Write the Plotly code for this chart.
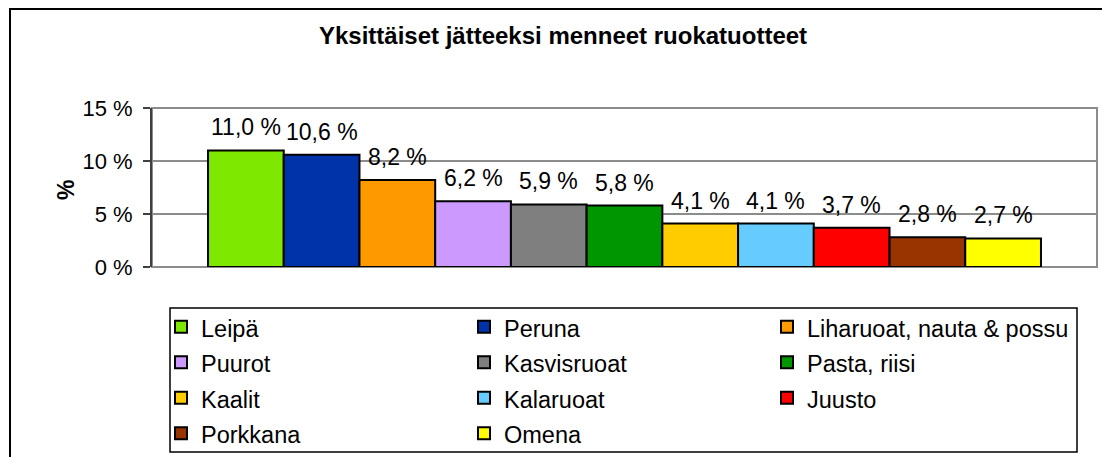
import plotly.graph_objects as go

# ---- data ----
categories = ["Leipä", "Peruna", "Liharuoat, nauta & possu", "Puurot", "Kasvisruoat",
              "Pasta, riisi", "Kaalit", "Kalaruoat", "Juusto", "Porkkana", "Omena"]
values = [11.0, 10.6, 8.2, 6.2, 5.9, 5.8, 4.1, 4.1, 3.7, 2.8, 2.7]
colors = ["#7FE800", "#0033AA", "#FF9900", "#CC99FF", "#7F7F7F",
          "#009600", "#FFCC00", "#66CCFF", "#FF0000", "#993300", "#FFFF00"]
y_ticks = [0, 5, 10, 15]
y_tick_labels = ["0 %", "5 %", "10 %", "15 %"]
title_text = "Yksittäiset jätteeksi menneet ruokatuotteet"

FONT = "Liberation Sans, Arial, sans-serif"
OFF = 8  # default page body margin
W, H = 1110 - OFF, 457 - OFF
# plot area in viewport pixels: x 152..1097, y 108..267
L, T = 152 - OFF, 108 - OFF
R = W - (1097 - OFF)
B = H - (267 - OFF)
PW, PH = W - L - R, H - T - B

def px_x(px):  # viewport pixel -> paper
    return (px - OFF - L) / PW

def px_y(py):
    return (H - B - (py - OFF)) / PH

fig = go.Figure()
for i, (name, val, col) in enumerate(zip(categories, values, colors)):
    fig.add_trace(go.Bar(
        x=[i], y=[val], name=f"<span style='font-size:23.5px'>{name}</span>",
        width=1,
        marker=dict(color=col, line=dict(color="black", width=2)),
        hovertemplate=f"{name}: %{{y}} %<extra></extra>",
    ))
    fig.add_annotation(
        x=i, y=val, xref="x", yref="y",
        text=f"{val:.1f}".replace(".", ",") + " %",
        showarrow=False, yanchor="bottom", yshift=8,
        font=dict(family=FONT, size=23, color="black"),
    )

shapes = [
    dict(type="rect", xref="paper", yref="paper", x0=0, x1=1, y0=0, y1=1,
         line=dict(color="#8C8C8C", width=2), layer="below"),
    dict(type="line", xref="paper", yref="paper", x0=px_x(10), x1=px_x(10),
         y0=px_y(8), y1=px_y(470), line=dict(color="black", width=2)),
    dict(type="line", xref="paper", yref="paper", x0=px_x(10), x1=px_x(1120),
         y0=px_y(9), y1=px_y(9), line=dict(color="black", width=2)),
    dict(type="rect", xref="paper", yref="paper", x0=px_x(170), x1=px_x(1077),
         y0=px_y(452), y1=px_y(308), line=dict(color="black", width=1.5)),
]

fig.add_annotation(
    x=px_x(51), y=px_y(190), xref="paper", yref="paper",
    text="<b>%</b>", textangle=-90, showarrow=False,
    font=dict(family=FONT, size=23, color="black"),
)

n = len(values)
fig.update_layout(
    width=W, height=H,
    margin=dict(l=L, r=R, t=T, b=B),
    paper_bgcolor="white", plot_bgcolor="white",
    barmode="overlay",
    showlegend=True,
    title=dict(text=f"<b>{title_text}</b>", x=(563 - OFF) / W, xanchor="center",
               y=1 - (36 - OFF) / H, yanchor="middle",
               font=dict(family=FONT, size=24, color="black")),
    font=dict(family=FONT, color="black"),
    shapes=shapes,
    legend=dict(orientation="h", xref="container", yref="container",
                x=(161 - OFF) / W, xanchor="left", y=1 - (304 - OFF) / H,
                yanchor="top",
                entrywidth=258, bgcolor="rgba(0,0,0,0)", borderwidth=0,
                font=dict(family=FONT, size=25, color="black"),
                traceorder="normal"),
    xaxis=dict(range=[-1.24, n - 1 + 1.24], showticklabels=False, showgrid=False,
               zeroline=False, showline=False, ticks=""),
    yaxis=dict(range=[0, 15], tickvals=y_ticks, ticktext=y_tick_labels,
               showgrid=True, gridcolor="#8C8C8C", gridwidth=2,
               zeroline=False, showline=True, linecolor="#404040", linewidth=2,
               ticks="outside", ticklen=7, tickwidth=2, tickcolor="#404040",
               ticklabelstandoff=6,
               tickfont=dict(family=FONT, size=22, color="black")),
)

fig.write_html("out.html")
